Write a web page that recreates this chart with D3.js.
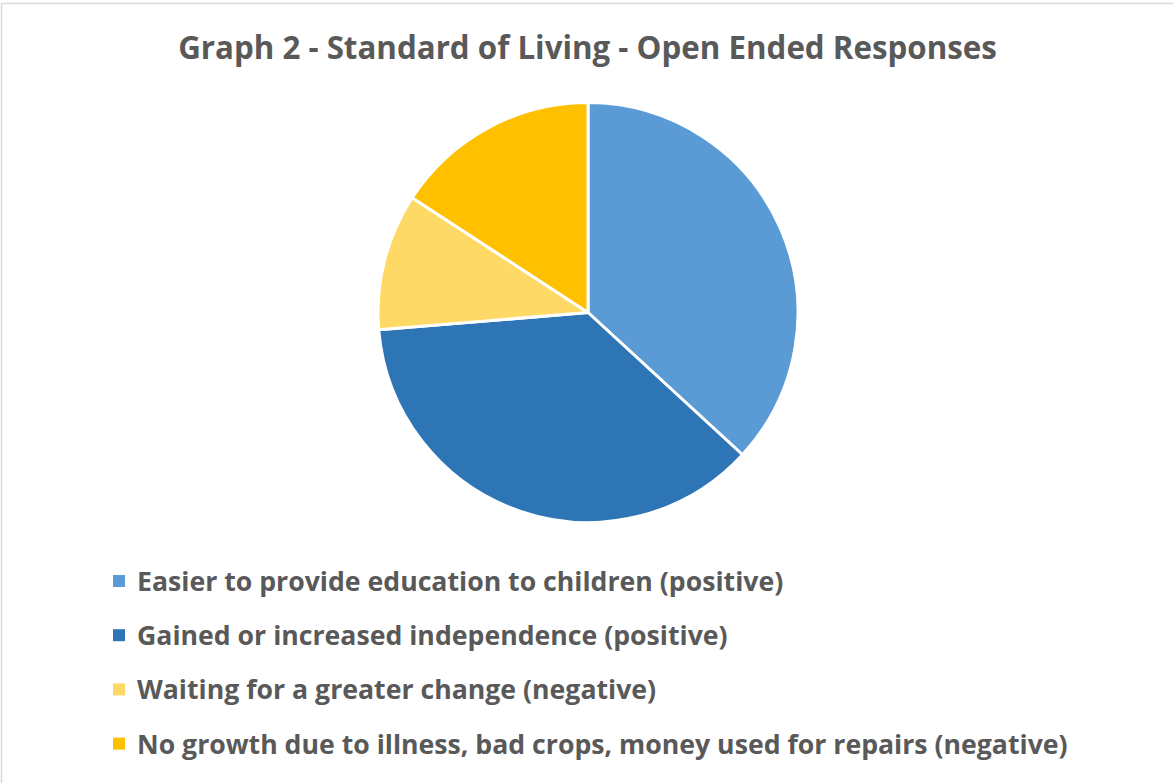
<!DOCTYPE html>
<html>
<head>
<meta charset="utf-8">
<script src="https://cdn.jsdelivr.net/npm/d3@7"></script>
<style>
  html, body { margin: 0; padding: 0; background: #fff; }
  svg { display: block; }
  text { font-family: "Open Sans", "Liberation Sans", sans-serif; font-weight: 700; fill: #595959; }
</style>
</head>
<body>
<svg id="chart" width="1173" height="783"></svg>
<script>
// Response categories and counts
const categories = [
  "Easier to provide education to children (positive)",
  "Gained or increased independence (positive)",
  "Waiting for a greater change (negative)",
  "No growth due to illness, bad crops, money used for repairs (negative)"
];
const counts = [7, 7, 2, 3];
const colors = ["#5B9BD5", "#2E75B6", "#FFD966", "#FFC000"];
const title = "Graph 2 - Standard of Living - Open Ended Responses";

const W = 1173, H = 783;
const svg = d3.select("#chart");

// chart frame
svg.append("rect")
  .attr("x", 1.5).attr("y", 3.5)
  .attr("width", W + 10).attr("height", H + 10)
  .attr("fill", "#fff").attr("stroke", "#d9d9d9").attr("stroke-width", 1.5);

// fit a text element to a target width by adjusting font size
function fitWidth(sel, target, start) {
  let fs = start;
  sel.attr("font-size", fs);
  const w = sel.node().getComputedTextLength();
  fs = fs * target / w;
  sel.attr("font-size", fs);
  return fs;
}

const titleText = svg.append("text")
  .attr("x", 587.5).attr("y", 59)
  .attr("text-anchor", "middle")
  .text(title);
fitWidth(titleText, 819, 28);

// pie
const cx = 588, cy = 312.5, r = 210;
const data = categories.map((c, i) => ({ name: c, value: counts[i], color: colors[i] }));
const pie = d3.pie().value(d => d.value).sort(null);
const arc = d3.arc().innerRadius(0).outerRadius(r);

svg.append("g")
  .attr("transform", `translate(${cx},${cy})`)
  .selectAll("path")
  .data(pie(data))
  .join("path")
  .attr("d", arc)
  .attr("fill", d => d.data.color)
  .attr("stroke", "#fff")
  .attr("stroke-width", 3)
  .attr("stroke-linejoin", "round");

// legend
const y0 = 591, dy = 54.2;
const legend = svg.append("g");
const rows = legend.selectAll("g")
  .data(data)
  .join("g")
  .attr("transform", (d, i) => `translate(0,${y0 + i * dy})`);

rows.append("rect")
  .attr("x", 113).attr("y", -16)
  .attr("width", 12).attr("height", 12)
  .attr("fill", d => d.color);

const labels = rows.append("text")
  .attr("x", 137).attr("y", 0)
  .text(d => d.name);

// size legend font from the longest entry
const longest = labels.filter((d, i) => i === 3);
const fs = fitWidth(longest, 931, 24);
labels.attr("font-size", fs);
</script>
</body>
</html>
